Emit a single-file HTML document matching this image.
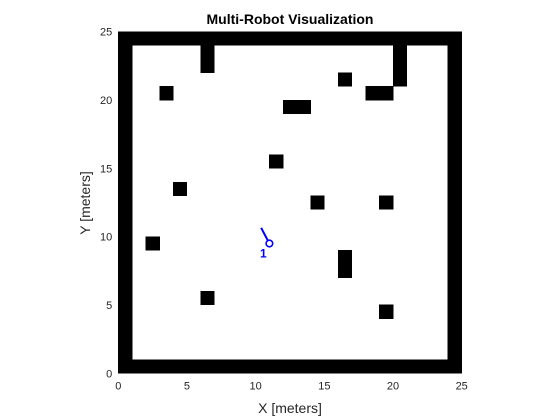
<!DOCTYPE html>
<html><head><meta charset="utf-8"><style>
body{margin:0;background:#fff;}
svg{display:block;font-family:"Liberation Sans",Arial,sans-serif;}
</style></head><body>
<svg id="chart" width="560" height="420" viewBox="0 0 560 420" xmlns="http://www.w3.org/2000/svg">
<rect width="560" height="420" fill="#fff"/>
<text x="290" y="24" text-anchor="middle" font-size="14" font-weight="bold" fill="#000">Multi-Robot Visualization</text>
<g id="cells" shape-rendering="crispEdges"></g>
<g id="axes"></g>
<g id="robot"></g>
<text x="290" y="413" text-anchor="middle" font-size="14" fill="#262626">X [meters]</text>
<text transform="translate(90,203) rotate(-90)" text-anchor="middle" font-size="14" fill="#262626">Y [meters]</text>
</svg>
<script>
const xTicks=[0,5,10,15,20,25];
const yTicks=[0,5,10,15,20,25];
const obstacleX=[6,6,20,20,20,3,16,18,19,12,13,11,4,14,19,2,16,16,6,19];
const obstacleY=[22,23,21,22,23,20,21,20,20,19,19,15,13,12,12,9,7,8,5,4];
const robotX=[11.0];
const robotY=[9.5];
const robotHeadX=[10.4];
const robotHeadY=[10.65];
const robotLabels=["1"];
const mapSize=25;
const NS="http://www.w3.org/2000/svg";
const X0=118.3,X1=461.7,Y0=373.3,Y1=31.7;
const sx=v=>X0+(X1-X0)*v/mapSize;
const sy=v=>Y0-(Y0-Y1)*v/mapSize;
function mk(tag,attrs,parent){const e=document.createElementNS(NS,tag);for(const k in attrs)e.setAttribute(k,attrs[k]);parent.appendChild(e);return e;}
const cells=document.getElementById('cells');
function cell(cx,cy,name){const r=mk('rect',{x:sx(cx)-0.25,y:sy(cy+1)-0.25,width:sx(cx+1)-sx(cx)+0.5,height:sy(cy)-sy(cy+1)+0.5,fill:'#000'},cells);

}
for(let i=0;i<mapSize;i++){cell(i,0,'wall-cell');cell(i,mapSize-1,'wall-cell');cell(0,i,'wall-cell');cell(mapSize-1,i,'wall-cell');}
obstacleX.forEach((x,i)=>cell(x,obstacleY[i],'obstacle-cell'));
const ax=document.getElementById('axes');
xTicks.forEach(t=>{const tx=mk('text',{x:sx(t),y:Y0+16,'text-anchor':'middle','font-size':'11',fill:'#262626'},ax);tx.textContent=t;

});
yTicks.forEach(t=>{const tx=mk('text',{x:X0-6,y:sy(t)+4,'text-anchor':'end','font-size':'11',fill:'#262626'},ax);tx.textContent=t;

});
const rb=document.getElementById('robot');
robotX.forEach((x,i)=>{
const l=mk('line',{x1:sx(x),y1:sy(robotY[i]),x2:sx(robotHeadX[i]),y2:sy(robotHeadY[i]),stroke:'#0000ff','stroke-width':'2'},rb);


const c=mk('circle',{cx:sx(x),cy:sy(robotY[i]),r:3.3,fill:'#fff',stroke:'#0000ff','stroke-width':'1.6'},rb);


const t=mk('text',{x:sx(x)-6,y:sy(robotY[i])+14,'text-anchor':'middle','font-size':'12','font-weight':'bold',fill:'#0000ff'},rb);t.textContent=robotLabels[i];


});
</script>
</body></html>
